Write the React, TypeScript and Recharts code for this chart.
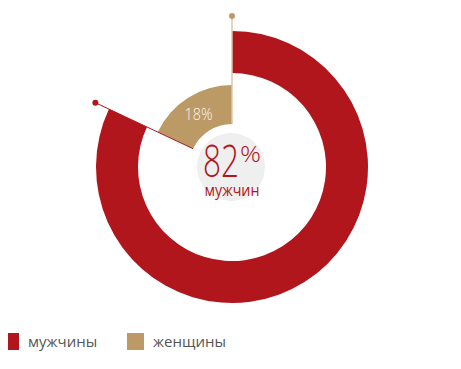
import React from "react";
import { PieChart, Pie, Cell } from "recharts";

const categories = ["мужчины", "женщины"];
const values = [82, 18];
const colors = ["#b0161c", "#bc9a66"];
const centerValue = "82";
const centerLabel = "мужчин";

const data = categories.map((name, i) => ({ name, value: values[i] }));
const centerData = [{ name: "center", value: 1 }];

const RAD = Math.PI / 180;
const polar = (cx: number, cy: number, r: number, a: number) => ({
  x: cx + Math.cos(-RAD * a) * r,
  y: cy + Math.sin(-RAD * a) * r,
});

const FONT = "'Open Sans', 'Noto Sans', sans-serif";

const innerLabel = (props: any) => {
  const { cx, cy, startAngle, endAngle, midAngle, innerRadius, outerRadius, index, value } = props;
  if (index !== 1) return null;
  const lineEnd = outerRadius + 69;
  const s0 = polar(cx, cy, innerRadius, startAngle);
  const s1 = polar(cx, cy, lineEnd, startAngle);
  const e0 = polar(cx, cy, innerRadius, endAngle);
  const e1 = polar(cx, cy, lineEnd, endAngle);
  const t = polar(cx, cy, (innerRadius + outerRadius) / 2, midAngle);
  return (
    <g>
      <line x1={s0.x} y1={s0.y} x2={s1.x} y2={s1.y} stroke={colors[0]} strokeWidth={1} />
      <circle cx={s1.x} cy={s1.y} r={3} fill={colors[0]} />
      <line x1={e0.x} y1={e0.y} x2={e1.x} y2={e1.y} stroke="#dcc7a6" strokeWidth={1.5} />
      <circle cx={e1.x} cy={e1.y} r={3} fill={colors[1]} />
      <text x={t.x} y={t.y} dy={6} textAnchor="middle" fill="#fbf8f3" fontFamily={FONT} fontSize={17} fontWeight={300} textLength={28} lengthAdjust="spacingAndGlyphs">
        {value}%
      </text>
    </g>
  );
};

const centerText = (props: any) => {
  const { cx, cy } = props;
  return (
    <g>
      <text x={cx - 28} y={cy + 10} fill={colors[0]} fontFamily={FONT} fontWeight={300}>
        <tspan fontSize={45} textLength={36} lengthAdjust="spacingAndGlyphs">{centerValue}</tspan>
        <tspan x={cx + 9} y={cy - 5} fontSize={22} textLength={21} lengthAdjust="spacingAndGlyphs">%</tspan>
      </text>
      <text x={cx + 1} y={cy + 29} textAnchor="middle" fill={colors[0]} fontFamily={FONT} fontSize={17} textLength={55} lengthAdjust="spacingAndGlyphs">
        {centerLabel}
      </text>
    </g>
  );
};

export default function App() {
  return (
    <div style={{ position: "relative", width: 461, height: 369, margin: "-8px 0 0 -8px", background: "#fff" }}>
      <PieChart width={461} height={320} margin={{ top: 0, right: 0, bottom: 0, left: 0 }}>
        <Pie
          data={centerData}
          dataKey="value"
          cx={231}
          cy={167}
          innerRadius={0}
          outerRadius={34}
          startAngle={90}
          endAngle={-270}
          stroke="none"
          fill="#efeff0"
          isAnimationActive={false}
          label={centerText}
          labelLine={false}
        />
        <Pie
          data={data}
          dataKey="value"
          cx={232}
          cy={167}
          innerRadius={94}
          outerRadius={136}
          startAngle={90}
          endAngle={-270}
          stroke="none"
          isAnimationActive={false}
        >
          <Cell fill={colors[0]} />
          <Cell fill="transparent" />
        </Pie>
        <Pie
          data={data}
          dataKey="value"
          cx={232}
          cy={167}
          innerRadius={43}
          outerRadius={82}
          startAngle={90}
          endAngle={-270}
          stroke="none"
          isAnimationActive={false}
          label={innerLabel}
          labelLine={false}
        >
          <Cell fill="transparent" />
          <Cell fill={colors[1]} />
        </Pie>
      </PieChart>
      <div style={{ position: "absolute", left: 2, top: 333, display: "flex", alignItems: "center", fontFamily: FONT, fontSize: 15, color: "#555555" }}>
        {categories.map((c, i) => (
          <div key={c} style={{ display: "flex", alignItems: "center", width: i === 0 ? 125 : "auto" }}>
            <div style={{ width: 17, height: 17, background: colors[i], marginRight: 9 }} />
            <span style={{ lineHeight: "17px" }}>{c}</span>
          </div>
        ))}
      </div>
    </div>
  );
}
